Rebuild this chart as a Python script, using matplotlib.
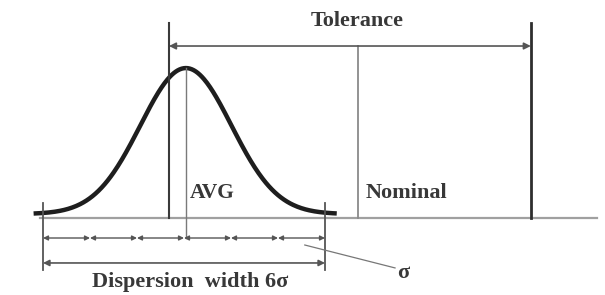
import numpy as np
import matplotlib.pyplot as plt

# positions in sigma units (mean = 0)
avg = 0.04
curve_sigma = 0.97
curve_range = [-3.2, 3.25]
curve_lift = 0.027
sigma_ticks = [-3, -2, -1, 0, 1, 2, 3]
lower_tol = -0.32
upper_tol = 7.38
nominal = 3.70
base_range = [-3.06, 8.79]

labels = {
    'tol': 'Tolerance',
    'avg': 'AVG',
    'nom': 'Nominal',
    'disp': 'Dispersion  width 6σ',
    'sigma': 'σ',
}

font = dict(family='Liberation Serif', weight='bold', color='#383838')


def draw_arrow(ax, x0, x1, y, color, scale=9, lw=1.0):
    ax.annotate('', xy=(x1, y), xytext=(x0, y),
                arrowprops=dict(arrowstyle='<|-|>', color=color, lw=lw,
                                mutation_scale=scale, shrinkA=0, shrinkB=0))


def main():
    fig = plt.figure(figsize=(6.05, 2.95), dpi=100)
    ax = fig.add_axes([0, 0, 1, 1])
    ax.set_xlim(-184 / 47, 421 / 47)
    ax.set_ylim(-77 / 146, 218 / 146)
    ax.axis('off')

    # baseline
    ax.plot(base_range, [0, 0], color='#a0a0a0', lw=1.6)

    # normal curve
    x = np.linspace(curve_range[0], curve_range[1], 300)
    y = curve_lift + np.exp(-0.5 * ((x - avg) / curve_sigma) ** 2)
    ax.plot(x, y, color='#1e1e1e', lw=3.2, solid_capstyle='butt')

    # tolerance limits and nominal
    ax.plot([lower_tol, lower_tol], [0, 1.336], color='#3a3a3a', lw=1.5)
    ax.plot([upper_tol, upper_tol], [0, 1.336], color='#2e2e2e', lw=2.0)
    ax.plot([nominal, nominal], [0, 1.178], color='#8a8a8a', lw=1.3)
    draw_arrow(ax, lower_tol, upper_tol, 1.178, '#555555', scale=10, lw=1.2)
    ax.text(nominal - 0.02, 1.349, labels['tol'], ha='center',
            va='center', fontsize=16, **font)

    # average line
    ax.plot([avg, avg], [curve_lift + 1, -0.137], color='#7a7a7a', lw=1.0)
    ax.text(avg + 0.09, 0.171, labels['avg'], ha='left', va='center',
            fontsize=15.5, **font)
    ax.text(nominal + 0.17, 0.171, labels['nom'], ha='left', va='center',
            fontsize=16, **font)

    # sigma ticks
    y_ticks = -0.137
    for a, b in zip(sigma_ticks[:-1], sigma_ticks[1:]):
        draw_arrow(ax, a, b, y_ticks, '#555555', scale=7, lw=1.0)
    for xe in [sigma_ticks[0], sigma_ticks[-1]]:
        ax.plot([xe, xe], [0.103, -0.356], color='#555555', lw=1.3)

    # dispersion width
    draw_arrow(ax, sigma_ticks[0], sigma_ticks[-1], -0.308, '#555555', scale=9, lw=1.2)
    ax.text(0.13, -0.438, labels['disp'], ha='center', va='center',
            fontsize=16, **font)

    # sigma leader
    ax.plot([2.57, 4.49], [-0.185, -0.342], color='#777777', lw=0.9)
    ax.text(4.66, -0.377, labels['sigma'], ha='center', va='center',
            fontsize=16, **font)

    fig.savefig('out.png', dpi=100, facecolor='white')


if __name__ == "__main__":
    main()
